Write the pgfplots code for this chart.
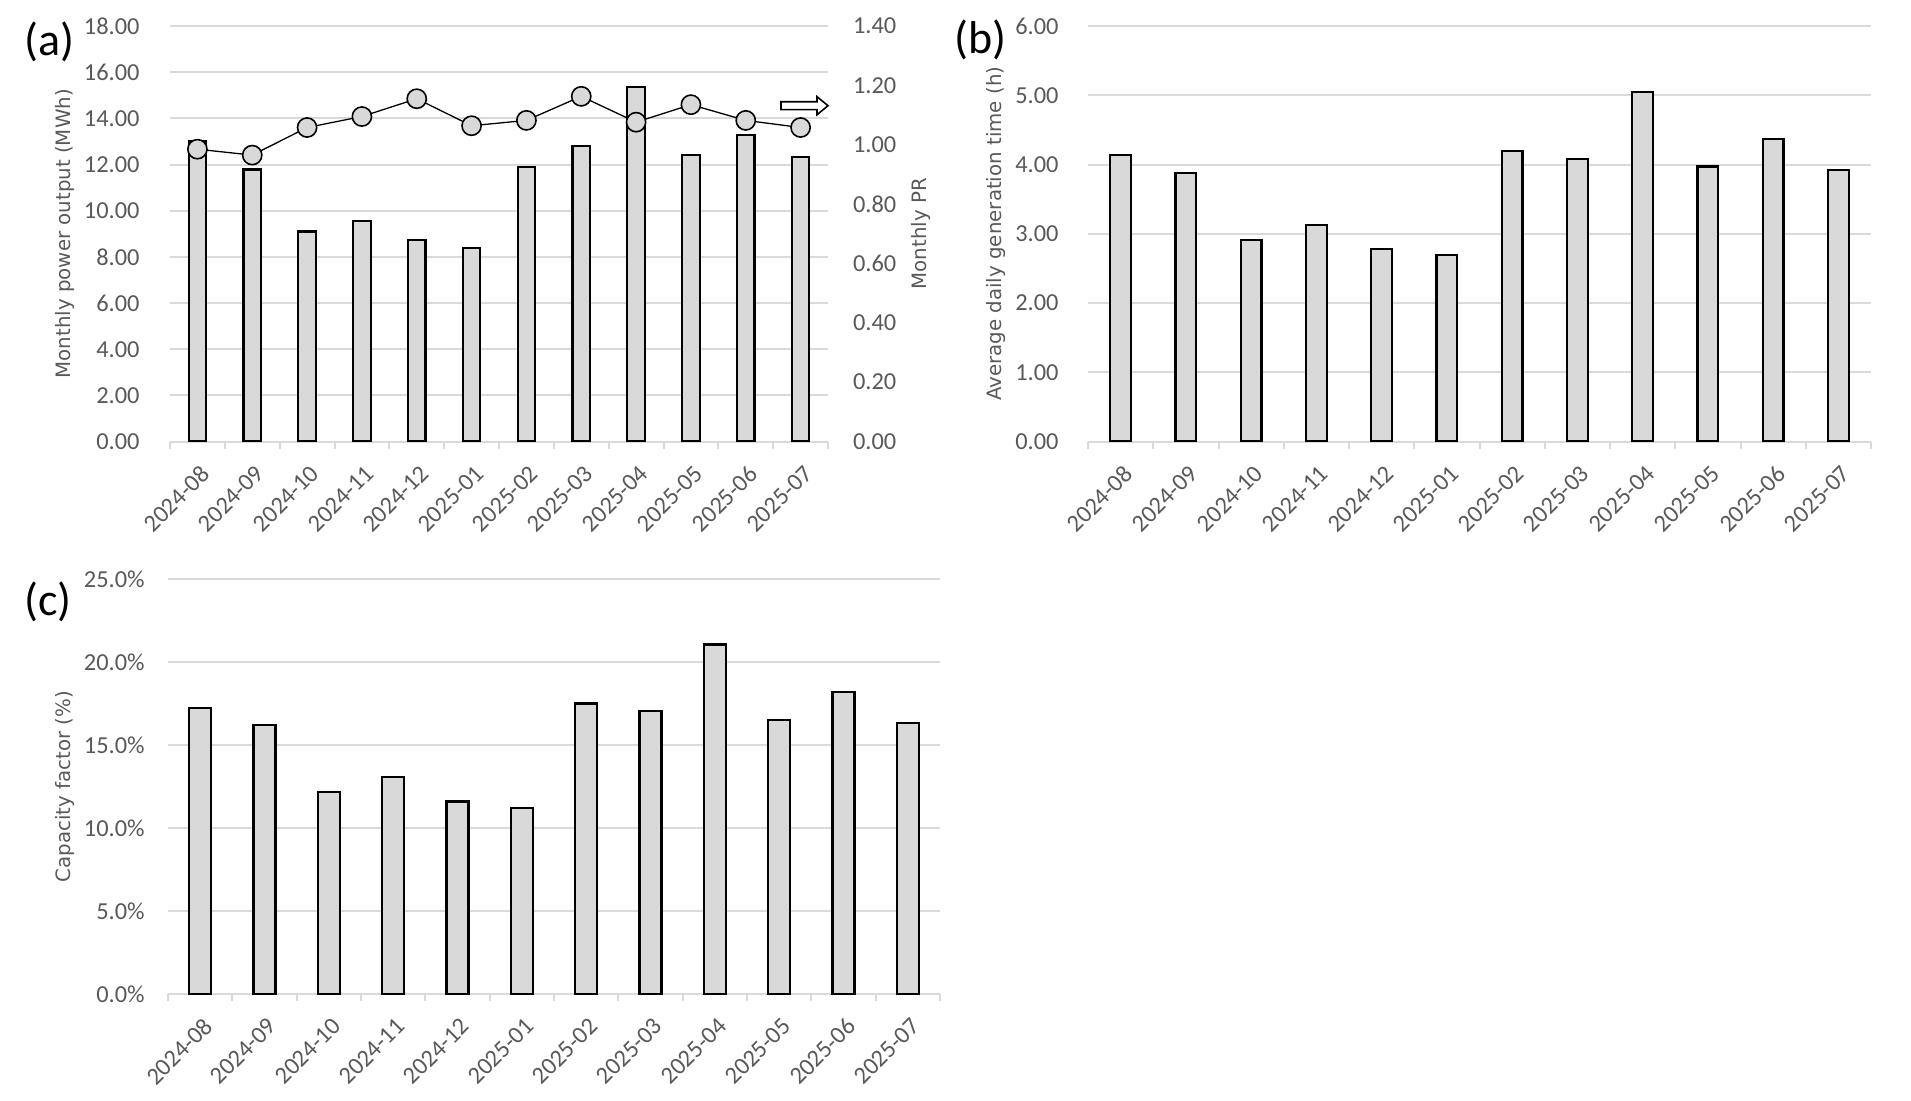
\documentclass[border=0pt]{standalone}
\usepackage{fontspec}
\setmainfont{Carlito}
\newfontfamily\labelfont{DejaVu Sans}
\usepackage{pgfplots}
\usepackage{pgfplotstable}
\pgfplotsset{compat=1.18}

\definecolor{gridgray}{HTML}{D9D9D9}
\definecolor{txtgray}{HTML}{595959}
\definecolor{barfill}{HTML}{D9D9D9}

% idx  output(MWh)  PR  hours(h)  CF(%)
\pgfplotstableread{
idx out   pr    hrs   cf
0   13.02 0.985 4.14  17.25
1   11.78 0.965 3.88  16.19
2   9.10  1.058 2.91  12.15
3   9.55  1.095 3.13  13.08
4   8.73  1.155 2.78  11.60
5   8.40  1.064 2.69  11.21
6   11.89 1.082 4.20  17.50
7   12.80 1.163 4.08  17.03
8   15.37 1.076 5.05  21.05
9   12.42 1.135 3.97  16.52
10  13.27 1.082 4.37  18.21
11  12.31 1.058 3.92  16.34
}\monthly

\pgfplotsset{
  excelbars/.style={
    scale only axis,
    anchor=south west,
    xmin=-0.5, xmax=11.5,
    xtick={0,...,11},
    xticklabels={2024-08,2024-09,2024-10,2024-11,2024-12,2025-01,2025-02,2025-03,2025-04,2025-05,2025-06,2025-07},
    minor xtick={-0.5,0.5,...,11.5},
    axis x line*=bottom, axis y line*=left,
    x axis line style={draw=gridgray, line width=1pt},
    y axis line style={draw=none},
    major x tick style={draw=none},
    minor x tick style={draw=gridgray, line width=1pt},
    major tick length=0pt,
    minor tick length=3.5pt,
    ytick style={draw=none},
    tick align=outside,
    ymajorgrids,
    major grid style={draw=gridgray, line width=1pt},
    ymin=0,
    tick label style={font=\fontsize{12.2}{14}\selectfont, text=txtgray},
    xticklabel style={yshift=-11pt, xshift=1pt, rotate=45, anchor=north east, inner sep=0pt},
    yticklabel style={anchor=east, inner sep=0pt},
    /pgf/number format/assume math mode=true,
    label style={font=\labelfont\fontsize{9.9}{11}\selectfont, text=txtgray},
  },
  excelbar/.style={ybar, bar width=0.32, fill=barfill, draw=black, line width=1.1pt},
}

\begin{document}
\begin{tikzpicture}
\useasboundingbox (0,0) rectangle (955.5pt,-550pt);

% (a) monthly output and PR
\begin{axis}[excelbars,
  at={(85pt,-220.75pt)}, width=329pt, height=207.75pt,
  ymax=18, ytick distance=2,
  yticklabel style={/pgf/number format/fixed, /pgf/number format/fixed zerofill,
    /pgf/number format/precision=2, xshift=-15pt},
  ylabel={Monthly power output (MWh)},
  ylabel style={at={(axis description cs:-0.1596,0.5)}, anchor=center},
]
\addplot[excelbar] table[x=idx, y=out] {\monthly};
\end{axis}

\begin{axis}[scale only axis, anchor=south west,
  at={(85pt,-220.75pt)}, width=329pt, height=207.75pt,
  xmin=-0.5, xmax=11.5, ymin=0, ymax=1.4,
  ytick={0,0.2,0.4,0.6,0.8,1.0,1.2,1.4},
  axis x line=none, axis y line*=right,
  y axis line style={draw=none}, ytick style={draw=none},
  major tick length=0pt,
  clip=false,
  tick label style={font=\fontsize{12.2}{14}\selectfont, text=txtgray},
  /pgf/number format/assume math mode=true,
  yticklabel style={anchor=west, inner sep=0pt, xshift=12.35pt,
    /pgf/number format/fixed, /pgf/number format/fixed zerofill,
    /pgf/number format/precision=2},
  label style={font=\labelfont\fontsize{9.9}{11}\selectfont, text=txtgray},
  ylabel={Monthly PR},
  ylabel style={at={(axis description cs:1.1413,0.5)}, anchor=center},
]
\addplot[black, line width=0.65pt, mark=*, mark size=4.8pt,
  mark options={fill=barfill, draw=black, line width=0.8pt}]
  table[x=idx, y=pr] {\monthly};
\draw[line width=0.8pt, fill=white]
  (rel axis cs:0.9286,0.7986) -- (rel axis cs:0.9833,0.7986) --
  (rel axis cs:0.9833,0.7865) -- (rel axis cs:1.0,0.8082) --
  (rel axis cs:0.9833,0.8299) -- (rel axis cs:0.9833,0.8178) --
  (rel axis cs:0.9286,0.8178) -- cycle;
\end{axis}

% (b) average daily generation time
\begin{axis}[excelbars,
  at={(544pt,-220.75pt)}, width=391.5pt, height=207.75pt,
  ymax=6, ytick distance=1,
  yticklabel style={/pgf/number format/fixed, /pgf/number format/fixed zerofill,
    /pgf/number format/precision=2, xshift=-14.5pt},
  ylabel={Average daily generation time (h)},
  ylabel style={at={(axis description cs:-0.1175,0.5)}, anchor=center},
]
\addplot[excelbar] table[x=idx, y=hrs] {\monthly};
\end{axis}

% (c) capacity factor
\begin{axis}[excelbars,
  at={(84pt,-497pt)}, width=386pt, height=207.5pt,
  ymax=25, ytick distance=5,
  yticklabel={\pgfmathprintnumber[fixed,fixed zerofill,precision=1]{\tick}\%},
  yticklabel style={xshift=-11.5pt},
  ylabel={Capacity factor (\%)},
  ylabel style={at={(axis description cs:-0.1334,0.5)}, anchor=center},
]
\addplot[excelbar, bar width=0.34] table[x=idx, y=cf] {\monthly};
\end{axis}

\node[anchor=north west, inner sep=0pt, font=\fontsize{23}{26}\selectfont] at (12pt,-10.5pt) {(a)};
\node[anchor=north west, inner sep=0pt, font=\fontsize{23}{26}\selectfont] at (477pt,-9.5pt) {(b)};
\node[anchor=north west, inner sep=0pt, font=\fontsize{23}{26}\selectfont] at (12pt,-290.5pt) {(c)};
\end{tikzpicture}
\end{document}
